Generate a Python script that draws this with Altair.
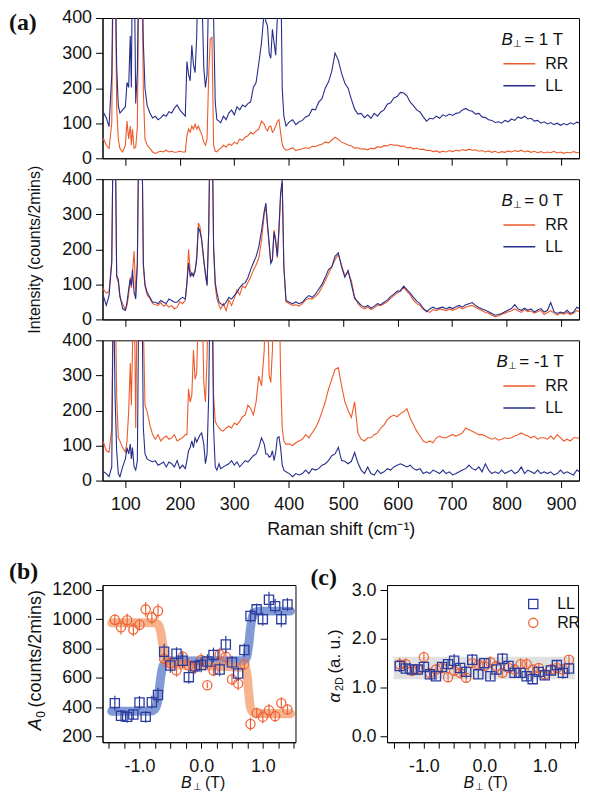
import altair as alt
import pandas as pd

# ---------------- data: Raman spectra (panel a) ----------------
RAMAN_SHIFT = [56, 60, 65, 70, 75, 78, 81, 84, 87, 90, 95, 100, 103, 106, 109, 111, 113, 116, 119, 122,
               125, 127, 130, 133, 136, 140, 145, 150, 155, 160, 165, 170, 175, 180, 185, 190, 195, 200, 205, 210,
               213, 216, 219, 222, 225, 228, 231, 234, 237, 240, 244, 247, 250, 253, 256, 259, 262, 265, 268, 272,
               275, 280, 285, 290, 295, 300, 305, 310, 315, 320, 325, 330, 335, 340, 345, 350, 355, 358, 361, 364,
               367, 370, 373, 376, 379, 382, 385, 388, 391, 395,
               401, 407, 413, 419, 425, 431, 437, 443, 449, 455, 461, 467, 473, 479, 485, 491, 497, 503, 509, 515,
               521, 527, 533, 539, 545, 551, 557, 563, 569, 575, 581, 587, 593, 599, 605, 611, 617, 623, 629, 635,
               641, 647, 653, 659, 665, 671, 677, 683, 689, 695, 701, 707, 713, 719, 725, 731, 737, 743, 749, 755,
               761, 767, 773, 779, 785, 791, 797, 803, 809, 815, 821, 827, 833, 839, 845, 851, 857, 863, 869, 875,
               881, 887, 893, 899, 905, 911, 917, 923, 929, 935]

# B = +1 T
LL_P1 = [135, 130, 115, 90, 239, 600, 600, 262, 150, 129, 138, 147, 216, 202, 349, 202, 600, 600, 156, 250,
         600, 600, 600, 330, 200, 150, 129, 115, 120, 110, 115, 124, 120, 133, 129, 143, 152, 138, 129, 120,
         276, 239, 221, 322, 267, 244, 349, 600, 600, 500, 257, 202, 239, 500, 600, 600, 400, 160, 110, 106,
         101, 120, 110, 129, 138, 124, 147, 138, 152, 147, 156, 161, 202, 216, 271, 331, 420, 390, 377, 300,
         285, 368, 330, 294, 400, 600, 600, 200, 120, 92,
         104, 110, 96, 104, 108, 118, 122, 140, 138, 160, 170, 200, 218, 248, 300, 280, 242, 214, 200, 168,
         140, 126, 128, 116, 124, 114, 128, 120, 132, 138, 154, 158, 172, 176, 188, 186, 178, 160, 150, 138,
         132, 118, 106, 114, 112, 120, 114, 124, 120, 126, 122, 128, 130, 138, 142, 136, 134, 126, 128, 118,
         116, 110, 108, 102, 104, 100, 108, 104, 112, 108, 118, 114, 120, 112, 114, 106, 108, 100, 104, 98,
         102, 96, 100, 94, 99, 95, 101, 97, 103, 100]
RR_P1 = [50, 55, 37, 28, 101, 600, 600, 147, 55, 28, 18, 37, 106, 55, 92, 37, 83, 28, 32, 90,
         600, 600, 600, 193, 55, 37, 28, 18, 14, 18, 20, 18, 23, 18, 20, 17, 18, 20, 18, 18,
         64, 83, 74, 92, 83, 97, 83, 92, 80, 69, 46, 37, 55, 239, 340, 345, 37, 20, 18, 25,
         28, 37, 32, 41, 37, 46, 41, 55, 51, 60, 64, 74, 69, 78, 83, 106, 97, 85, 78, 90,
         92, 74, 80, 92, 105, 110, 74, 40, 28, 23,
         26, 30, 22, 25, 27, 30, 28, 34, 33, 38, 40, 46, 44, 52, 60, 54, 46, 42, 38, 35,
         29, 30, 26, 27, 24, 29, 27, 33, 31, 36, 35, 40, 37, 38, 34, 35, 30, 31, 27, 29,
         25, 26, 22, 23, 19, 21, 17, 20, 18, 22, 19, 23, 21, 25, 22, 26, 23, 24, 20, 22,
         18, 21, 17, 20, 16, 19, 17, 21, 18, 22, 19, 23, 18, 21, 17, 20, 16, 19, 15, 18,
         16, 20, 15, 18, 14, 17, 15, 19, 16, 18]

# B = 0 T
LL_0 = [60, 65, 40, 68, 161, 600, 600, 125, 114, 68, 31, 26, 49, 86, 114, 96, 142, 77, 58, 161,
        600, 600, 600, 160, 100, 77, 63, 49, 49, 45, 54, 49, 45, 58, 54, 49, 49, 58, 63, 58,
        105, 161, 123, 133, 123, 137, 170, 263, 250, 230, 170, 133, 96, 253, 600, 600, 207, 105, 77, 49,
        45, 40, 49, 63, 58, 68, 77, 91, 100, 105, 119, 142, 161, 179, 207, 253, 309, 332, 270, 220,
        160, 170, 250, 220, 180, 260, 360, 398, 150, 54,
        49, 45, 50, 45, 49, 60, 68, 63, 72, 86, 100, 120, 142, 150, 180, 190, 150, 120, 140, 100,
        60, 50, 40, 35, 40, 32, 38, 45, 42, 49, 55, 65, 72, 80, 82, 95, 85, 75, 63, 52,
        45, 32, 22, 30, 35, 30, 33, 35, 30, 35, 31, 36, 40, 35, 42, 45, 48, 40, 34, 30,
        26, 22, 17, 12, 14, 17, 22, 27, 31, 42, 30, 26, 32, 26, 30, 21, 27, 31, 21, 26,
        48, 22, 17, 21, 18, 26, 17, 21, 35, 30]
RR_0 = [90, 85, 75, 80, 170, 600, 600, 120, 105, 62, 45, 28, 40, 70, 120, 90, 130, 195, 70, 160,
        600, 600, 600, 150, 95, 70, 60, 45, 42, 40, 48, 38, 42, 35, 40, 30, 35, 50, 45, 55,
        100, 200, 140, 125, 130, 140, 180, 275, 265, 225, 165, 125, 100, 250, 600, 600, 200, 95, 60, 40,
        30, 45, 25, 55, 40, 60, 85, 70, 95, 90, 105, 120, 140, 155, 175, 225, 300, 320, 265, 210,
        160, 175, 255, 230, 175, 250, 350, 390, 150, 50,
        45, 40, 42, 38, 45, 55, 60, 58, 65, 75, 92, 110, 130, 150, 170, 185, 155, 125, 135, 110,
        65, 45, 35, 30, 35, 28, 33, 40, 40, 45, 50, 60, 68, 75, 80, 92, 80, 70, 55, 45,
        40, 28, 25, 20, 28, 25, 30, 28, 25, 30, 26, 30, 35, 30, 35, 38, 40, 35, 30, 25,
        20, 18, 12, 8, 10, 15, 18, 22, 25, 30, 25, 20, 28, 22, 24, 18, 22, 26, 14, 20,
        25, 18, 12, 18, 15, 20, 14, 18, 25, 22]

# B = -1 T
RR_M1 = [112, 108, 85, 81, 150, 600, 600, 243, 122, 113, 94, 81, 113, 196, 335, 215, 372, 600, 150, 600,
         600, 600, 600, 450, 215, 196, 159, 131, 118, 131, 113, 122, 127, 118, 122, 131, 113, 118, 122, 131,
         131, 261, 224, 243, 372, 289, 307, 500, 600, 600, 280, 224, 354, 600, 600, 600, 243, 169, 159, 150,
         145, 141, 150, 155, 150, 164, 159, 169, 182, 187, 215, 206, 187, 224, 298, 270, 372, 600, 500, 300,
         280, 372, 600, 600, 600, 600, 298, 150, 113, 104,
         104, 100, 108, 113, 118, 131, 122, 136, 150, 169, 196, 224, 261, 289, 317, 322, 270, 225, 200, 180,
         225, 135, 118, 113, 122, 122, 131, 136, 150, 159, 173, 182, 187, 182, 191, 196, 205, 178, 159, 141,
         127, 113, 108, 113, 108, 122, 127, 122, 122, 127, 131, 127, 131, 136, 150, 145, 141, 136, 131, 131,
         127, 122, 118, 122, 115, 118, 122, 120, 122, 127, 131, 136, 131, 127, 122, 127, 118, 122, 122, 118,
         127, 118, 131, 122, 113, 118, 113, 122, 122, 120]
LL_M1 = [28, 25, 20, 11, 39, 600, 243, 85, 20, 11, 39, 62, 94, 76, 104, 62, 94, 39, 30, 57,
         600, 600, 600, 150, 76, 62, 57, 53, 57, 44, 48, 53, 39, 53, 48, 39, 57, 34, 44, 34,
         57, 85, 94, 113, 94, 122, 110, 120, 130, 136, 104, 48, 76, 243, 600, 600, 150, 39, 30, 48,
         34, 39, 44, 48, 57, 44, 53, 39, 48, 57, 53, 62, 71, 76, 94, 122, 104, 76, 76, 67,
         70, 85, 57, 80, 122, 125, 94, 45, 30, 25,
         20, 11, 20, 16, 20, 30, 20, 34, 30, 34, 44, 48, 57, 71, 76, 95, 57, 55, 48, 55,
         80, 50, 30, 20, 39, 20, 16, 30, 20, 25, 34, 30, 39, 44, 48, 44, 39, 44, 34, 30,
         34, 20, 25, 20, 30, 25, 20, 30, 20, 25, 16, 20, 25, 30, 34, 44, 34, 30, 39, 25,
         48, 30, 20, 25, 20, 30, 20, 25, 30, 20, 25, 39, 20, 30, 25, 20, 30, 20, 25, 20,
         25, 16, 20, 30, 20, 25, 20, 16, 30, 24]

RAMAN_TICKS = [100, 200, 300, 400, 500, 600, 700, 800, 900]
INTENSITY_TICKS = [0, 100, 200, 300, 400]

# ---------------- data: panel b ----------------
B_FIELD = [-1.4, -1.3, -1.2, -1.1, -1.0, -0.9, -0.8, -0.7, -0.6, -0.5, -0.4, -0.3, -0.2, -0.1, 0.0,
           0.1, 0.2, 0.3, 0.4, 0.5, 0.6, 0.7, 0.8, 0.9, 1.0, 1.1, 1.2, 1.3, 1.4]
LL_A0 = [427, 340, 333, 349, 431, 333, 433, 482, 778, 684, 764, 716, 604, 678, 687,
         711, 756, 656, 827, 705, 629, 789, 1022, 1067, 1000, 1133, 1089, 1000, 1100]
LL_A0_ERR = [50, 40, 40, 35, 45, 40, 45, 50, 55, 50, 45, 50, 45, 45, 50,
             50, 50, 45, 60, 45, 50, 45, 45, 40, 45, 55, 50, 55, 45]
RR_A0 = [996, 944, 993, 929, 962, 1067, 1011, 1056, 729, 700, 651, 744, 684, 671, 722,
         549, 649, 760, 744, 589, 560, 693, 284, 360, 333, 378, 338, 427, 384]
RR_A0_ERR = [40, 50, 45, 45, 40, 50, 45, 50, 50, 45, 45, 40, 45, 45, 45,
             20, 40, 45, 45, 40, 45, 40, 45, 35, 45, 45, 40, 40, 35]
LL_FIT_B = [-1.45, -0.85, -0.78, -0.74, -0.71, -0.68, -0.65, -0.62, -0.58, -0.52,
            0.62, 0.68, 0.71, 0.74, 0.77, 0.80, 0.83, 0.87, 0.94, 1.45]
LL_FIT_A0 = [372, 372, 376, 392, 430, 520, 620, 680, 706, 714,
             716, 716, 722, 745, 820, 940, 1015, 1045, 1055, 1055]
RR_FIT_B = [-1.45, -0.80, -0.72, -0.68, -0.65, -0.62, -0.59, -0.56, -0.52, -0.46,
            0.66, 0.71, 0.73, 0.75, 0.77, 0.79, 0.82, 0.86, 0.92, 1.45]
RR_FIT_A0 = [975, 975, 970, 950, 900, 820, 740, 705, 692, 690,
             672, 668, 650, 600, 500, 420, 375, 360, 356, 355]
B_TICKS = [-1.5, -1.25, -1.0, -0.75, -0.5, -0.25, 0.0, 0.25, 0.5, 0.75, 1.0, 1.25, 1.5]
A0_TICKS = [200, 400, 600, 800, 1000, 1200]

# ---------------- data: panel c ----------------
LL_ALPHA = [1.44, 1.39, 1.37, 1.37, 1.42, 1.27, 1.23, 1.42, 1.48, 1.55, 1.40, 1.32, 1.57, 1.27, 1.50,
            1.23, 1.37, 1.59, 1.44, 1.30, 1.30, 1.23, 1.17, 1.32, 1.25, 1.35, 1.46, 1.30, 1.39]
LL_ALPHA_ERR = [0.12, 0.10, 0.10, 0.09, 0.10, 0.10, 0.08, 0.09, 0.10, 0.14, 0.10, 0.12, 0.12, 0.09, 0.10,
                0.08, 0.10, 0.12, 0.10, 0.09, 0.10, 0.10, 0.08, 0.09, 0.10, 0.10, 0.09, 0.12, 0.12]
RR_ALPHA = [1.47, 1.48, 1.34, 1.37, 1.62, 1.30, 1.37, 1.40, 1.21, 1.34, 1.30, 1.20, 1.50, 1.47, 1.44,
            1.52, 1.44, 1.30, 1.40, 1.37, 1.48, 1.48, 1.37, 1.40, 1.27, 1.37, 1.40, 1.37, 1.57]
RR_ALPHA_ERR = [0.14, 0.12, 0.10, 0.10, 0.12, 0.10, 0.10, 0.11, 0.10, 0.10, 0.12, 0.10, 0.10, 0.10, 0.09,
                0.12, 0.10, 0.10, 0.10, 0.11, 0.12, 0.12, 0.10, 0.10, 0.09, 0.11, 0.12, 0.12, 0.10]
BAND_B = [-1.5, 1.5]
BAND_ALPHA = [1.17, 1.63]
ALPHA_TICKS = [0.0, 1.0, 2.0, 3.0]

for name, arr in [("LL_P1", LL_P1), ("RR_P1", RR_P1), ("LL_0", LL_0), ("RR_0", RR_0),
                  ("RR_M1", RR_M1), ("LL_M1", LL_M1)]:
    if len(arr) != len(RAMAN_SHIFT):
        raise ValueError(f"{name} has {len(arr)} values, expected {len(RAMAN_SHIFT)}")

# ---------------- styling ----------------
FONT = "Liberation Sans"
SERIF = "Liberation Serif"
INK = "#111111"
RR_COLOR = "#ee5a2a"
LL_COLOR = "#262e8a"
RR_PT = "#ef6438"
LL_PT = "#2c3c9e"
RR_FIT = "#f2955f"
LL_FIT = "#5274c6"
FS = 18
LETTER_X = -94


def txt(s, x, y, size=17, style="normal", weight="normal", font=FONT, angle=0,
        align="left", baseline="alphabetic"):
    kw = dict(text=s, fontSize=size, fontStyle=style, fontWeight=weight, font=font,
              align=align, baseline=baseline, color=INK)
    if angle:
        kw["angle"] = angle
    return alt.Chart(pd.DataFrame({"k": [0]})).mark_text(**kw).encode(
        x=alt.value(x), y=alt.value(y))


SPEC_W, SPEC_H = 479, 141


def spectrum(rr, ll, value_text, bx, bottom=False, ytitle=False, letter=None):
    n = len(RAMAN_SHIFT)
    df = pd.DataFrame({"shift": RAMAN_SHIFT + RAMAN_SHIFT,
                       "intensity": rr + ll,
                       "pol": ["RR"] * n + ["LL"] * n})
    x = alt.X("shift:Q",
              scale=alt.Scale(domain=[58, 933], nice=False, zero=False),
              axis=alt.Axis(values=RAMAN_TICKS, labels=bottom, tickSize=7,
                            labelPadding=8, titlePadding=7),
              title="Raman shift (cm⁻¹)" if bottom else None)
    y = alt.Y("intensity:Q",
              scale=alt.Scale(domain=[0, 400], nice=False),
              axis=alt.Axis(values=INTENSITY_TICKS, tickSize=7, labelPadding=4,
                            titlePadding=19, titleFontSize=16),
              title="Intensity (counts/2mins)" if ytitle else None)
    color = alt.Color("pol:N",
                      scale=alt.Scale(domain=["RR", "LL"], range=[RR_COLOR, LL_COLOR]),
                      legend=alt.Legend(title=None, orient="none", legendX=402, legendY=38,
                                        symbolType="stroke", symbolSize=1024,
                                        symbolStrokeWidth=1.5, clipHeight=16, rowPadding=6,
                                        labelFontSize=16, labelOffset=9, padding=0))
    lines = alt.Chart(df).mark_line(clip=True, strokeWidth=1.1).encode(x=x, y=y, color=color)
    layers = [lines,
              txt("B", bx, 27, style="italic"),
              txt("⊥", bx + 12, 29, size=10),
              txt(value_text, bx + 23, 27)]
    if letter:
        layers.append(txt(letter, LETTER_X, -7, size=24, weight="bold", font=SERIF,
                          baseline="top"))
    return alt.layer(*layers).properties(width=SPEC_W, height=SPEC_H)


top = spectrum(RR_P1, LL_P1, "= 1 T", 401, letter="(a)")
mid = spectrum(RR_0, LL_0, "= 0 T", 401, ytitle=True)
bot = spectrum(RR_M1, LL_M1, "= -1 T", 396, bottom=True)
spectra = alt.vconcat(top, mid, bot, spacing=21, bounds="flush").resolve_scale(
    color="independent")

# ---------------- panel b ----------------
PANEL_H = 158
B_W = 194
b_x_scale = alt.Scale(domain=[-1.6, 1.53], nice=False, zero=False)
LABEL_EXPR = ("abs(datum.value + 1) < 0.001 ? '-1.0' : abs(datum.value) < 0.001 ? '0.0' : "
              "abs(datum.value - 1) < 0.001 ? '1.0' : ''")
b_x_axis = alt.Axis(values=B_TICKS, labelExpr=LABEL_EXPR, tickSize=6, labelPadding=9,
                    labelOverlap=False)
b_y_scale = alt.Scale(domain=[160, 1233], nice=False, zero=False)
b_y_axis = alt.Axis(values=A0_TICKS, format="d", tickSize=7, labelPadding=4, labelOverlap=False)

bx_enc = alt.X("B:Q", scale=b_x_scale, axis=b_x_axis, title=None)
by_enc = alt.Y("A0:Q", scale=b_y_scale, axis=b_y_axis, title=None)

ll_df = pd.DataFrame({"B": B_FIELD, "A0": LL_A0, "err": LL_A0_ERR})
ll_df["lo"] = ll_df["A0"] - ll_df["err"]
ll_df["hi"] = ll_df["A0"] + ll_df["err"]
rr_df = pd.DataFrame({"B": B_FIELD, "A0": RR_A0, "err": RR_A0_ERR})
rr_df["lo"] = rr_df["A0"] - rr_df["err"]
rr_df["hi"] = rr_df["A0"] + rr_df["err"]

fit_ll = alt.Chart(pd.DataFrame({"B": LL_FIT_B, "A0": LL_FIT_A0})).mark_line(
    color=LL_FIT, strokeWidth=9, opacity=0.72, interpolate="monotone", strokeCap="round"
).encode(x=bx_enc, y=by_enc)
fit_rr = alt.Chart(pd.DataFrame({"B": RR_FIT_B, "A0": RR_FIT_A0})).mark_line(
    color=RR_FIT, strokeWidth=9, opacity=0.72, interpolate="monotone", strokeCap="round"
).encode(x=bx_enc, y=by_enc)


def errbars(df, col, xs, ys, xax, yax):
    return alt.Chart(df).mark_rule(color=col, strokeWidth=1.2).encode(
        x=alt.X("B:Q", scale=xs, axis=xax, title=None),
        y=alt.Y("lo:Q", scale=ys, axis=yax, title=None), y2="hi:Q")


pts_ll = alt.Chart(ll_df).mark_point(shape="square", filled=False, size=85, strokeWidth=1.3,
                                     color=LL_PT, opacity=1).encode(x=bx_enc, y=by_enc)
pts_rr = alt.Chart(rr_df).mark_point(shape="circle", filled=False, size=85, strokeWidth=1.3,
                                     color=RR_PT, opacity=1).encode(x=bx_enc, y=by_enc)

panel_b = alt.layer(
    fit_ll, fit_rr,
    errbars(rr_df, RR_PT, b_x_scale, b_y_scale, b_x_axis, b_y_axis), pts_rr,
    errbars(ll_df, LL_PT, b_x_scale, b_y_scale, b_x_axis, b_y_axis), pts_ll,
    txt("(b)", LETTER_X, -13, size=24, weight="bold", font=SERIF, baseline="middle"),
    txt("A", -67, 146, size=18, style="italic", angle=270, baseline="middle"),
    txt("0", -62, 133.5, size=12, angle=270, baseline="middle"),
    txt("(counts/2mins)", -67, 123, size=18, angle=270, baseline="middle"),
    txt("B", 79, 204, size=16, style="italic"),
    txt("⊥", 90.5, 206, size=10),
    txt("(T)", 103, 204, size=16),
).properties(width=B_W, height=PANEL_H)

# ---------------- panel c ----------------
C_W = 192
c_x_scale = alt.Scale(domain=[-1.61, 1.55], nice=False, zero=False)
c_x_axis = alt.Axis(values=B_TICKS, labelExpr=LABEL_EXPR, tickSize=6, labelPadding=9,
                    labelOverlap=False)
c_y_scale = alt.Scale(domain=[-0.127, 3.107], nice=False, zero=False)
c_y_axis = alt.Axis(values=ALPHA_TICKS, format=".1f", tickSize=7, labelPadding=4,
                    labelOverlap=False)

cx_enc = alt.X("B:Q", scale=c_x_scale, axis=c_x_axis, title=None)
cy_enc = alt.Y("alpha:Q", scale=c_y_scale, axis=c_y_axis, title=None)

n_c = len(B_FIELD)
c_df = pd.DataFrame({"B": B_FIELD + B_FIELD,
                     "alpha": RR_ALPHA + LL_ALPHA,
                     "err": RR_ALPHA_ERR + LL_ALPHA_ERR,
                     "pol": ["RR"] * n_c + ["LL"] * n_c})
c_df["lo"] = c_df["alpha"] - c_df["err"]
c_df["hi"] = c_df["alpha"] + c_df["err"]
c_rr = c_df[c_df["pol"] == "RR"]
c_ll = c_df[c_df["pol"] == "LL"]

band = alt.Chart(pd.DataFrame({"b1": [BAND_B[0]], "b2": [BAND_B[1]],
                               "a1": [BAND_ALPHA[0]], "a2": [BAND_ALPHA[1]]})).mark_rect(
    color="#dedede", opacity=0.9).encode(
    x=alt.X("b1:Q", scale=c_x_scale, axis=c_x_axis, title=None), x2="b2:Q",
    y=alt.Y("a1:Q", scale=c_y_scale, axis=c_y_axis, title=None), y2="a2:Q")

c_legend = alt.Legend(title=None, orient="none", legendX=139, legendY=11, symbolSize=85,
                      symbolStrokeWidth=1.3, labelFontSize=16, labelOffset=16, rowPadding=3,
                      clipHeight=16, padding=0)
c_pts = alt.Chart(c_df).mark_point(filled=False, size=85, strokeWidth=1.3, opacity=1).encode(
    x=cx_enc, y=cy_enc,
    color=alt.Color("pol:N", scale=alt.Scale(domain=["LL", "RR"], range=[LL_PT, RR_PT]),
                    legend=c_legend),
    shape=alt.Shape("pol:N", scale=alt.Scale(domain=["LL", "RR"], range=["square", "circle"]),
                    legend=c_legend))

panel_c = alt.layer(
    band,
    errbars(c_rr, RR_PT, c_x_scale, c_y_scale, c_x_axis, c_y_axis),
    errbars(c_ll, LL_PT, c_x_scale, c_y_scale, c_x_axis, c_y_axis),
    c_pts,
    txt("(c)", -77, -7, size=24, weight="bold", font=SERIF, baseline="middle"),
    txt("α", -52, 118, size=17, style="italic", angle=270, baseline="middle"),
    txt("2D", -47.5, 106.5, size=11, angle=270, baseline="middle"),
    txt("(a. u.)", -52, 89, size=17, angle=270, baseline="middle"),
    txt("B", 77, 204, size=16, style="italic"),
    txt("⊥", 88.5, 206, size=10),
    txt("(T)", 101, 204, size=16),
).properties(width=C_W, height=PANEL_H)

bottom_row = alt.hconcat(panel_b, panel_c, spacing=0).resolve_scale(
    color="independent", shape="independent")

chart = alt.vconcat(spectra, bottom_row, spacing=20).resolve_scale(
    color="independent", shape="independent"
).properties(
    padding={"left": 0, "top": -2, "right": 0, "bottom": 0}
).configure_axis(
    labelFont=FONT, titleFont=FONT, labelFontSize=FS, titleFontSize=FS,
    titleFontWeight="normal", labelColor=INK, titleColor=INK, labelOverlap=False,
    domainColor="#000000", tickColor="#000000", domainWidth=1, tickWidth=1, grid=False
).configure_view(stroke="#000000", strokeWidth=1).configure_legend(
    labelFont=FONT, labelColor=INK
)

chart.save("out.html", embed_options={"renderer": "svg", "actions": False})
